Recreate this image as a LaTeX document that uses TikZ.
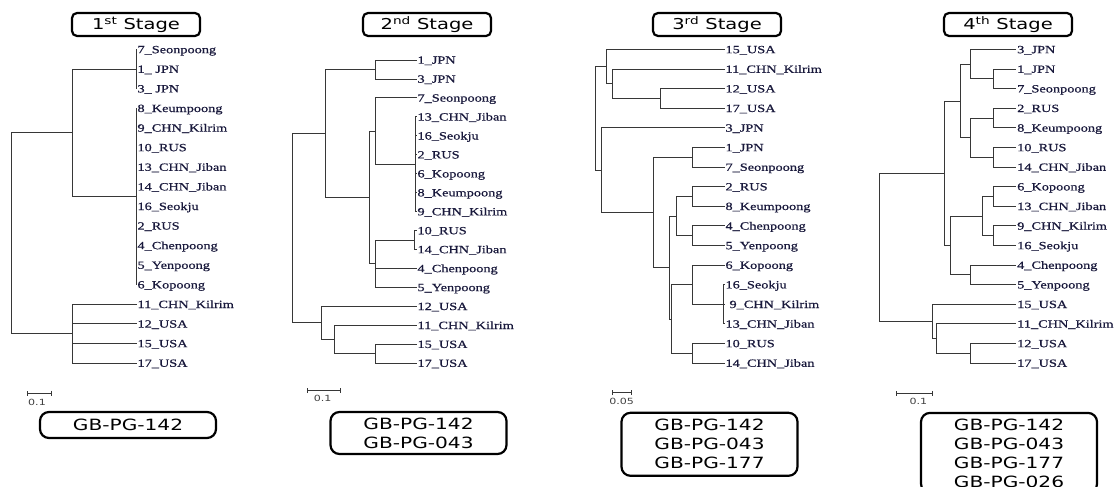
\documentclass[tikz,border=0pt]{standalone}
\usepackage{fontspec}
\usetikzlibrary{arrows.meta}
\newfontfamily\leaffont[FakeStretch=1.3,FakeBold=0.7]{Liberation Serif}
\newfontfamily\boxfont[FakeStretch=1.3]{DejaVu Sans}
\definecolor{leafcol}{RGB}{25,25,60}
\definecolor{linecol}{RGB}{55,55,55}
\begin{document}
\begin{tikzpicture}[x=1pt,y=-1pt,
  leaf/.style={anchor=west, inner xsep=0.8pt, inner ysep=0pt, text height=7.4pt, text depth=0pt, font=\leaffont\fontsize{11}{11}\selectfont, text=leafcol},
  branch/.style={draw=linecol, line width=0.85pt},
  titlebox/.style={draw, line width=2.2pt, rounded corners=5pt, minimum width=128pt, minimum height=23pt, inner sep=0pt, font=\boxfont\fontsize{15}{15}\selectfont},
  markerbox/.style={draw, line width=2.2pt, rounded corners=9pt, minimum width=176pt, inner sep=0pt, align=center, font=\boxfont\fontsize{15.5}{19}\selectfont},
  scalebar/.style={draw=linecol, line width=0.8pt, {Bar[width=5pt]}-{Bar[width=5pt]}},
  scalelabel/.style={font=\boxfont\fontsize{8.5}{8.5}\selectfont, text=black!75, inner sep=0pt}
]
\useasboundingbox (0,0) rectangle (1116,487);
\clip (0,0) rectangle (1116,487);

% ---------------- titles ----------------
\node[titlebox] (t1) at (136,24.5) {1\textsuperscript{st} Stage};
\node[titlebox] (t2) at (427,24.5) {2\textsuperscript{nd} Stage};
\node[titlebox] (t3) at (717,24.5) {3\textsuperscript{rd} Stage};
\node[titlebox] (t4) at (1008,24.5) {4\textsuperscript{th} Stage};

% ---------------- marker boxes ----------------
\node[markerbox, minimum height=26pt] (m1) at (128,425) {GB-PG-142};
\node[markerbox, minimum height=42pt] (m2) at (418.5,433) {GB-PG-142\\GB-PG-043};
\node[markerbox, minimum height=63pt] (m3) at (709.5,444.3) {GB-PG-142\\GB-PG-043\\GB-PG-177};
\node[markerbox, minimum height=80pt] (m4) at (1009,452.9) {GB-PG-142\\GB-PG-043\\GB-PG-177\\GB-PG-026};

% ---------------- scale bars ----------------
\coordinate (s1a) at (27,393); \coordinate (s1b) at (52,393);
\draw[scalebar] (s1a) -- (s1b);
\node[scalelabel] (sl1) at (37,402) {0.1};
\coordinate (s2a) at (307.3,390.7); \coordinate (s2b) at (340.7,390.7);
\draw[scalebar] (s2a) -- (s2b);
\node[scalelabel] (sl2) at (322.7,398.5) {0.1};
\coordinate (s3a) at (611.7,392.7); \coordinate (s3b) at (631.7,392.7);
\draw[scalebar] (s3a) -- (s3b);
\node[scalelabel] (sl3) at (621.7,401.5) {0.05};
\coordinate (s4a) at (895.7,393.3); \coordinate (s4b) at (932.3,393.3);
\draw[scalebar] (s4a) -- (s4b);
\node[scalelabel] (sl4) at (918.3,401) {0.1};

% ================= Panel 1 =================
\foreach \t [count=\i from 0] in {7\_Seonpoong,1\_ JPN,3\_ JPN,8\_Keumpoong,9\_CHN\_Kilrim,10\_RUS,13\_CHN\_Jiban,14\_CHN\_Jiban,16\_Seokju,2\_RUS,4\_Chenpoong,5\_Yenpoong,6\_Kopoong,11\_CHN\_Kilrim,12\_USA,15\_USA,17\_USA}
  \node[leaf] (p1l\i) at (136.5,{49.5+19.6*\i}) {\t};
\coordinate (p1root) at (11,233.3);
\coordinate (p1a) at (72,132.8);
\coordinate (p1a1) at (136,69.1);
\coordinate (p1a2) at (136,196.5);
\coordinate (p1b) at (72,333.7);
\foreach \p/\c in {p1root/p1a,p1root/p1b,p1a/p1a1,p1a/p1a2}
  \draw[branch] (\p) |- (\c);
\foreach \i in {0,1,2} \draw[branch] (p1a1) |- (p1l\i.west);
\foreach \i in {3,...,12} \draw[branch] (p1a2) |- (p1l\i.west);
\foreach \i in {13,...,16} \draw[branch] (p1b) |- (p1l\i.west);

% ================= Panel 2 =================
\foreach \t [count=\i from 0] in {1\_JPN,3\_JPN,7\_Seonpoong,13\_CHN\_Jiban,16\_Seokju,2\_RUS,6\_Kopoong,8\_Keumpoong,9\_CHN\_Kilrim,10\_RUS,14\_CHN\_Jiban,4\_Chenpoong,5\_Yenpoong,12\_USA,11\_CHN\_Kilrim,15\_USA,17\_USA}
  \node[leaf] (p2l\i) at (416.5,{60+18.95*\i}) {\t};
\coordinate (p2root) at (292.7,228.1);
\coordinate (p2a) at (325.7,133.4);
\coordinate (p2a1) at (375,69.5);
\coordinate (p2a2) at (369.3,197.4);
\coordinate (p2c) at (375,131.1);
\coordinate (p2c2) at (415,164.2);
\coordinate (p2d) at (375,263.7);
\coordinate (p2d1) at (414,240);
\coordinate (p2b) at (321.7,322.9);
\coordinate (p2e) at (334.3,339.5);
\coordinate (p2f) at (375,353.7);
\foreach \p/\c in {p2root/p2a,p2root/p2b,p2a/p2a1,p2a/p2a2,p2a2/p2c,p2a2/p2d,p2c/p2c2,p2d/p2d1,p2b/p2e,p2e/p2f}
  \draw[branch] (\p) |- (\c);
\foreach \p/\i in {p2a1/0,p2a1/1,p2c/2,p2c2/3,p2c2/4,p2c2/5,p2c2/6,p2c2/7,p2c2/8,p2d1/9,p2d1/10,p2d/11,p2d/12,p2b/13,p2e/14,p2f/15,p2f/16}
  \draw[branch] (\p) |- (p2l\i.west);

% ================= Panel 3 =================
\foreach \t [count=\i from 0] in {15\_USA,11\_CHN\_Kilrim,12\_USA,17\_USA,3\_JPN,1\_JPN,7\_Seonpoong,2\_RUS,8\_Keumpoong,4\_Chenpoong,5\_Yenpoong,6\_Kopoong,16\_Seokju,\kern4pt 9\_CHN\_Kilrim,13\_CHN\_Jiban,10\_RUS,14\_CHN\_Jiban}
  \node[leaf] (p3l\i) at (724.5,{49.5+19.6*\i}) {\t};
\coordinate (p3root) at (595.7,118.4);
\coordinate (p3a) at (606.7,66.65);
\coordinate (p3a2) at (612.7,83.8);
\coordinate (p3a3) at (660,98.5);
\coordinate (p3b) at (601,170.2);
\coordinate (p3c) at (653.3,212.4);
\coordinate (p3c1) at (692.3,157.3);
\coordinate (p3d) at (669,267.55);
\coordinate (p3e) at (676,216.1);
\coordinate (p3e1) at (692.3,196.5);
\coordinate (p3e2) at (692.3,235.7);
\coordinate (p3f) at (671.7,319);
\coordinate (p3g) at (692.3,284.7);
\coordinate (p3g2) at (723,304.3);
\coordinate (p3h) at (692.3,353.3);
\foreach \p/\c in {p3root/p3a,p3root/p3b,p3a/p3a2,p3a2/p3a3,p3b/p3c,p3c/p3c1,p3c/p3d,p3d/p3e,p3d/p3f,p3e/p3e1,p3e/p3e2,p3f/p3g,p3f/p3h,p3g/p3g2}
  \draw[branch] (\p) |- (\c);
\foreach \p/\i in {p3a/0,p3a2/1,p3a3/2,p3a3/3,p3b/4,p3c1/5,p3c1/6,p3e1/7,p3e1/8,p3e2/9,p3e2/10,p3g/11,p3g2/12,p3g2/13,p3g2/14,p3h/15,p3h/16}
  \draw[branch] (\p) |- (p3l\i.west);

% ================= Panel 4 =================
\foreach \t [count=\i from 0] in {3\_JPN,1\_JPN,7\_Seonpoong,2\_RUS,8\_Keumpoong,10\_RUS,14\_CHN\_Jiban,6\_Kopoong,13\_CHN\_Jiban,9\_CHN\_Kilrim,16\_Seokju,4\_Chenpoong,5\_Yenpoong,15\_USA,11\_CHN\_Kilrim,12\_USA,17\_USA}
  \node[leaf] (p4l\i) at (1016.2,{49.5+19.6*\i}) {\t};
\coordinate (p4root) at (879.3,247.3);
\coordinate (p4a) at (944,173.2);
\coordinate (p4c) at (960,100.95);
\coordinate (p4c1) at (970.7,64.2);
\coordinate (p4c1b) at (993.3,78.9);
\coordinate (p4c2) at (970.7,137.7);
\coordinate (p4c2a) at (993.3,118.1);
\coordinate (p4c2b) at (993.3,157.3);
\coordinate (p4d) at (950.7,245.5);
\coordinate (p4d1) at (982.7,216.1);
\coordinate (p4d1a) at (993.3,196.5);
\coordinate (p4d1b) at (993.3,235.7);
\coordinate (p4d2) at (970.7,274.9);
\coordinate (p4b) at (932.3,321.45);
\coordinate (p4e) at (936.7,338.6);
\coordinate (p4f) at (970.7,353.3);
\foreach \p/\c in {p4root/p4a,p4root/p4b,p4a/p4c,p4a/p4d,p4c/p4c1,p4c/p4c2,p4c1/p4c1b,p4c2/p4c2a,p4c2/p4c2b,p4d/p4d1,p4d/p4d2,p4d1/p4d1a,p4d1/p4d1b,p4b/p4e,p4e/p4f}
  \draw[branch] (\p) |- (\c);
\foreach \p/\i in {p4c1/0,p4c1b/1,p4c1b/2,p4c2a/3,p4c2a/4,p4c2b/5,p4c2b/6,p4d1a/7,p4d1a/8,p4d1b/9,p4d1b/10,p4d2/11,p4d2/12,p4b/13,p4e/14,p4f/15,p4f/16}
  \draw[branch] (\p) |- (p4l\i.west);
\end{tikzpicture}
\end{document}
